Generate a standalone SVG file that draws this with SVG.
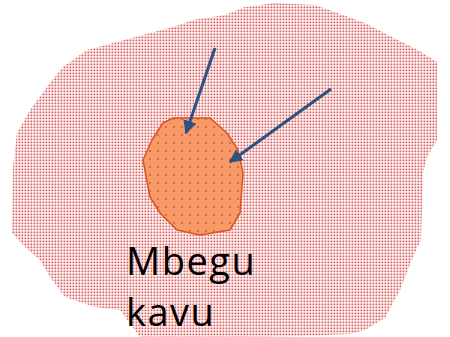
<svg xmlns="http://www.w3.org/2000/svg" width="450" height="337" viewBox="0 0 450 337">
<defs>
<pattern id="bgdots" x="0" y="0" width="3" height="3" patternUnits="userSpaceOnUse">
<rect x="0.5" y="0.5" width="1.8" height="1.8" fill="#d95c5c"/>
</pattern>
<pattern id="seeddots" x="2" y="3" width="8" height="8" patternUnits="userSpaceOnUse">
<rect width="8" height="8" fill="#f89a68"/>
<circle cx="4" cy="4" r="0.9" fill="#c8553f"/>
</pattern>
<marker id="ah" viewBox="0 0 10 10" refX="9" refY="5" markerWidth="4.5" markerHeight="4.5" orient="auto" markerUnits="strokeWidth">
<path d="M0,0 L10,5 L0,10 z" fill="#2c5282"/>
</marker>
<style>
.arrow{stroke:#2c5282;stroke-width:3;fill:none;marker-end:url(#ah)}
.lbl{font-family:"Open Sans","Liberation Sans",sans-serif;font-size:38px;letter-spacing:1.5px;fill:#000}
</style>
</defs>
<g id="field">
<path d="M12,233 L13,167 L17,133 L30,110 L50,83 L63,67 L87,50 L117,42 L150,33 L173,27 L193,20 L225,15 L245,7 L275,3 L315,5 L335,12 L365,23 L392,37 L418,50 L437,62 L437,140 L427,157 L423,173 L421,240 L413,257 L400,290 L385,318 L365,330 L350,334 L300,336 L250,337 L140,337 L120,310 L95,307 L65,297 L50,277 L40,260 L25,247 Z" fill="url(#bgdots)"/>
</g>
<g id="seed">
<path d="M163,123 L173,118 L210,118 L227,133 L238,150 L243,173 L240,213 L230,230 L200,235 L177,230 L160,213 L150,197 L143,160 L152,140 Z" fill="url(#seeddots)" stroke="#d9531e" stroke-width="1.5" stroke-linejoin="round"/>
</g>
<g id="connectors">
<line class="arrow" x1="215" y1="48" x2="186" y2="133"/>
<line class="arrow" x1="331" y1="89" x2="230" y2="162"/>
</g>
<g id="label">
<text class="lbl" x="126" y="275">Mbegu</text>
<text class="lbl" x="126" y="326">kavu</text>
</g>
</svg>
